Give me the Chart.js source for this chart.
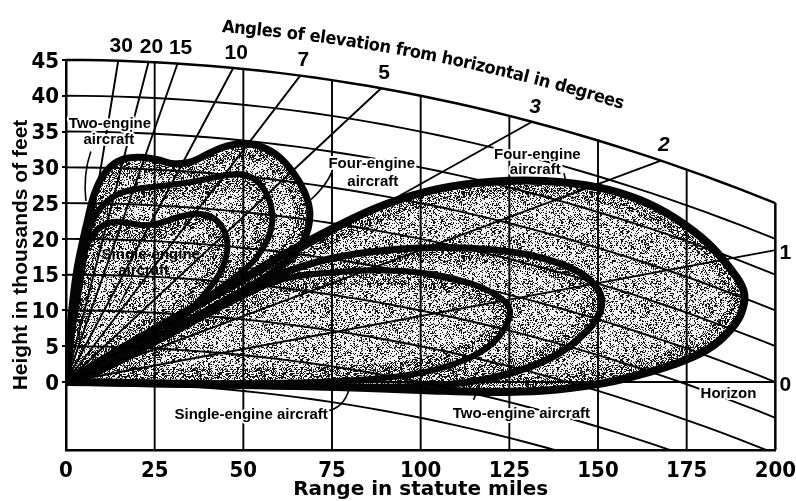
<!DOCTYPE html>
<html lang="en">
<head>
<meta charset="utf-8">
<title>Radar coverage</title>
<script src="https://cdn.jsdelivr.net/npm/chart.js@4.4.1/dist/chart.umd.min.js"></script>
<style>
  html, body { margin: 0; background: #fff; }
  canvas { display: block; }
</style>
</head>
<body>
<canvas id="coverage" width="796" height="501"></canvas>
<script>
// range in statute miles, height in thousands of feet
const rangeTicks = [0, 25, 50, 75, 100, 125, 150, 175, 200];
const heightTicks = [0, 5, 10, 15, 20, 25, 30, 35, 40, 45];
// elevation angles from horizontal, degrees
const elevationAngles = [30, 20, 15, 10, 7, 5, 3, 2, 1, 0];

// coverage lobes [miles, kft], traced round from the radar site
const singleLow = [[0,0],[15,3],[30,6.8],[45,10.8],[60,14.2],[75,15.3],[90,15.6],[103,15.1],[114,13.8],[121,12.2],[125,10.3],[124,7.8],[120,5.3],[113,3.2],[103,1.6],[90,0.6],[70,0],[40,-0.2],[15,-0.1],[0,0]];
const twoLow = [[0,0],[15,3.5],[30,7.4],[45,11.3],[60,15],[75,17.3],[90,18.4],[105,18.8],[120,18.5],[132,17.6],[142,16],[148,14.1],[151,11.7],[150,9.2],[146,6.7],[139,4],[129,1.8],[116,0.2],[100,-0.6],[80,-0.7],[50,-0.5],[20,-0.2],[0,0]];
const fourLow = [[0,0],[15,4.5],[30,8.8],[45,13],[60,17.4],[75,21.4],[90,24.8],[105,27],[120,28],[135,28.1],[150,27.2],[162,25.4],[172,22.8],[181,19.4],[187,16],[191,12.8],[190.5,9.8],[187.5,7.4],[181,4.6],[171,2.4],[160,0.8],[150,-0.3],[135,-1.2],[118,-1.4],[100,-1.1],[70,-0.6],[40,-0.3],[15,-0.1],[0,0]];
const singleHigh = [[0,0],[0.8,3],[1.7,7],[2.7,11],[3.8,15],[5.2,18.2],[7.5,20.5],[10.5,21.9],[14,22.4],[18,22.2],[22,21.9],[27,22.3],[32,23.1],[37,23.5],[41.5,22.9],[44.5,21.2],[45.5,18.8],[44.3,16.2],[41.5,13.8],[35,10],[27,6.6],[18,3.6],[9,1.4],[0,0]];
const twoHigh = [[0,0],[1,5],[2.4,11],[4,16.5],[6,20.6],[9,23.8],[13,25.8],[18,26.8],[25,27.3],[32,27.7],[39,28.3],[45,28.9],[50,29],[54,28],[57,25.8],[58.2,23],[57.3,20.5],[55,18.3],[51.5,16.2],[42,12.6],[30,8.6],[18,5],[8,2],[0,0]];
const fourHigh = [[0,0],[0.6,4],[1.6,10],[3,15.5],[4.6,19.5],[6,22.5],[7.8,26],[10.5,28.9],[14.5,30.8],[20,31.4],[25.5,31.1],[30.5,30.5],[35.5,30.8],[40.5,32],[45.5,33],[50,33.3],[55,32.9],[60,31.5],[64,29.3],[67.2,26.6],[68.7,24],[68.3,21.5],[66.5,19.3],[63.5,17.3],[55,14.3],[44,11.2],[32,7.8],[20,4.6],[9,1.9],[0,0]];

// 4/3 earth radius: ground drops miles^2/2 feet below the tangent
const CURVE = 2000;        // miles^2 per thousand feet of drop
const KFT_PER_MILE = 5.28;
const TOP = 45, BOTTOM = -9.5, FAR = 200;
const ARC_TITLE = 'Angles of elevation from horizontal in degrees';

const heightLine = h => {
  const pts = [];
  for (let d = 0; d <= FAR; d += 5) pts.push({x: d, y: h - d * d / CURVE});
  return pts;
};

// ray at a given elevation, stopped at the 45 000 ft line or the frame edge
function angleEnd(deg) {
  const s = KFT_PER_MILE * Math.tan(deg * Math.PI / 180);
  const d = Math.min(FAR, CURVE / 2 * (-s + Math.sqrt(s * s + 4 * TOP / CURVE)));
  return {x: d, y: s * d};
}

// grainy halftone; paper = null leaves the gaps transparent
function stipple(density, seed, paper) {
  const size = 64;
  const c = document.createElement('canvas');
  c.width = c.height = size;
  const g = c.getContext('2d');
  const img = g.createImageData(size, size);
  for (let i = 0; i < size * size; i++) {
    seed = (Math.imul(seed, 1664525) + 1013904223) >>> 0;
    const ink = seed / 4294967296 < density;
    if (ink) img.data.set([20, 20, 20, 255], i * 4);
    else if (paper !== null) img.data.set([paper, paper, paper, 255], i * 4);
  }
  g.putImageData(img, 0, 0);
  return g.createPattern(c, 'repeat');
}

const thin = {
  showLine: true, pointRadius: 0, fill: false, tension: 0,
  borderColor: '#000', borderWidth: 1.9,
  clip: {left: 4, top: 4, right: 4, bottom: 0}
};
const gridSets = [];
elevationAngles.forEach(a => gridSets.push({...thin, data: [{x: 0, y: 0}, angleEnd(a)]}));
heightTicks.forEach(h => gridSets.push({...thin, data: heightLine(h), borderWidth: h === TOP ? 2.5 : 1.9}));
rangeTicks.filter(r => r > 0).forEach(r => gridSets.push({
  ...thin,
  data: [{x: r, y: BOTTOM}, {x: r, y: TOP - r * r / CURVE}],
  borderWidth: r === FAR ? 2.5 : 1.9
}));

const shade = stipple(0.27, 20231, 242);
const rim = stipple(0.3, 911, null);
const lobe = (pts, w) => ({
  lobe: true,
  data: pts.map(([x, y]) => ({x, y})),
  showLine: true, pointRadius: 0, tension: 0.4,
  fill: 'shape', backgroundColor: shade,
  borderColor: '#050505', borderWidth: w, borderJoinStyle: 'round'
});
const lobeSets = [
  lobe(singleHigh, 6), lobe(twoHigh, 6), lobe(fourHigh, 7),
  lobe(singleLow, 6), lobe(twoLow, 7), lobe(fourLow, 8)
];

// darker grain along the inside of every lobe edge
const rimShade = {
  id: 'rimShade',
  beforeDatasetsDraw(chart) {
    const {ctx, chartArea: a} = chart;
    ctx.save();
    ctx.beginPath();
    ctx.rect(a.left, a.top, a.right - a.left, a.bottom - a.top);
    ctx.clip();
    chart.data.datasets.forEach((ds, i) => {
      if (!ds.lobe) return;
      const line = chart.getDatasetMeta(i).dataset;
      ctx.save();
      ctx.beginPath();
      line.path(ctx);
      ctx.closePath();
      ctx.clip();
      ctx.strokeStyle = rim;
      ctx.lineJoin = 'round';
      [30, 18, 10].forEach(w => { ctx.lineWidth = w; ctx.stroke(); });
      ctx.restore();
    });
    ctx.restore();
  }
};

// text set inside the plot, in chart units
const notes = [
  {text: 'Two-engine', x: 12.4, y: 36.1, halo: true},
  {text: 'aircraft', x: 12.1, y: 33.8, halo: true},
  {text: 'Single-engine', x: 23.9, y: 17.7},
  {text: 'aircraft', x: 21.9, y: 15.6},
  {text: 'Four-engine', x: 86.2, y: 30.5, halo: true},
  {text: 'aircraft', x: 86.5, y: 28.0, halo: true},
  {text: 'Four-engine', x: 132.9, y: 31.8, halo: true},
  {text: 'aircraft', x: 132.3, y: 29.7, halo: true},
  {text: 'Single-engine aircraft', x: 52.2, y: -4.6, halo: true},
  {text: 'Two-engine aircraft', x: 128.4, y: -4.5, halo: true},
  {text: 'Horizon', x: 186.8, y: -1.7, halo: true}
];
const leaders = [
  [[7.0, 32.2], [4.8, 29.1], [5.6, 25.3]],
  [[18.5, 14.1], [16.8, 12.5], [15.2, 10.9]],
  [[75.0, 29.4], [73.6, 27.6], [69.1, 25.5]],
  [[140.4, 29.2], [140.7, 28.5], [141.0, 27.9]],
  [[74.2, -4.0], [79.2, -3.3], [80.3, 0.0]],
  [[114.9, -2.5], [115.8, -1.4], [116.6, -0.3]]
];

// title set along a line parallel to the 45 000 ft curve
function drawArcTitle(ctx, chart) {
  const {x, y} = chart.scales;
  const x0 = 222, x1 = 622;
  const pts = [];
  for (let p = x0; p <= x1; p += 2) {
    const d = x.getValueForPixel(p);
    const lift = 35 + 4 * (p - x0) / (x1 - x0);
    pts.push([p, y.getPixelForValue(TOP - d * d / CURVE) - lift]);
  }
  const lens = [0];
  for (let i = 1; i < pts.length; i++) {
    lens.push(lens[i - 1] + Math.hypot(pts[i][0] - pts[i - 1][0], pts[i][1] - pts[i - 1][1]));
  }
  const total = lens[lens.length - 1];
  ctx.font = 'bold 17.5px "DejaVu Sans"';
  let w0 = 0;
  for (const ch of ARC_TITLE) w0 += ctx.measureText(ch).width;
  const squeeze = total / w0;
  ctx.textAlign = 'center';
  ctx.textBaseline = 'alphabetic';
  let s = 0;
  for (const ch of ARC_TITLE) {
    const w = ctx.measureText(ch).width * squeeze;
    const mid = s + w / 2;
    let i = 1;
    while (i < lens.length - 1 && lens[i] < mid) i++;
    const t = (mid - lens[i - 1]) / (lens[i] - lens[i - 1]);
    const px = pts[i - 1][0] + t * (pts[i][0] - pts[i - 1][0]);
    const py = pts[i - 1][1] + t * (pts[i][1] - pts[i - 1][1]);
    ctx.save();
    ctx.translate(px, py);
    ctx.rotate(Math.atan2(pts[i][1] - pts[i - 1][1], pts[i][0] - pts[i - 1][0]));
    ctx.scale(Math.min(1, squeeze + 0.04), 1);
    ctx.fillText(ch, 0, 0);
    ctx.restore();
    s += w;
  }
}

const annotate = {
  id: 'annotate',
  afterDraw(chart) {
    const {ctx} = chart;
    const {x, y} = chart.scales;
    const X = v => x.getPixelForValue(v), Y = v => y.getPixelForValue(v);
    ctx.save();
    ctx.fillStyle = '#000';
    ctx.strokeStyle = '#000';

    // leader lines
    ctx.lineWidth = 1.6;
    leaders.forEach(([a, c, b]) => {
      ctx.beginPath();
      ctx.moveTo(X(a[0]), Y(a[1]));
      ctx.quadraticCurveTo(X(c[0]), Y(c[1]), X(b[0]), Y(b[1]));
      ctx.stroke();
    });

    // labels
    ctx.textAlign = 'center';
    ctx.textBaseline = 'middle';
    ctx.font = 'bold 15px "Liberation Sans"';
    ctx.lineJoin = 'round';
    notes.forEach(n => {
      if (n.halo) {
        ctx.lineWidth = 4;
        ctx.strokeStyle = '#fff';
        ctx.strokeText(n.text, X(n.x), Y(n.y));
      }
      ctx.fillText(n.text, X(n.x), Y(n.y));
    });

    // angle numbers at the ray ends
    elevationAngles.forEach(a => {
      const e = angleEnd(a);
      const italic = a === 3 || a === 2;
      ctx.font = (italic ? 'italic ' : '') + 'bold 21px "Liberation Sans"';
      if (e.x < FAR) ctx.fillText(String(a), X(e.x) + 3, Y(e.y) - 15);
      else ctx.fillText(String(a), X(FAR) + 10, Y(e.y) + 3);
    });

    drawArcTitle(ctx, chart);
    ctx.restore();
  }
};

const tickFont = {family: '"Liberation Sans Narrow", "DejaVu Sans Condensed", "Liberation Sans", sans-serif', size: 22, weight: 'bold'};

new Chart(document.getElementById('coverage'), {
  type: 'scatter',
  data: {datasets: [...gridSets, ...lobeSets]},
  options: {
    responsive: false,
    animation: false,
    events: [],
    layout: {padding: {left: 0, top: 60, right: 18, bottom: 0}},
    plugins: {
      legend: {display: false},
      tooltip: {enabled: false},
      filler: {drawTime: 'beforeDatasetsDraw', propagate: false}
    },
    scales: {
      x: {
        type: 'linear', min: 0, max: FAR,
        afterBuildTicks: s => { s.ticks = rangeTicks.map(v => ({value: v})); },
        afterFit: s => { s.height = 51; },
        ticks: {font: tickFont, color: '#000', padding: 0, maxRotation: 0, autoSkip: false},
        grid: {display: false},
        border: {display: true, color: '#000', width: 2.5},
        title: {
          display: true, text: 'Range in statute miles', color: '#000',
          font: {family: '"DejaVu Sans"', size: 20, weight: 'bold', lineHeight: 1},
          padding: {top: 0, bottom: 1}
        }
      },
      y: {
        type: 'linear', min: BOTTOM, max: TOP,
        afterBuildTicks: s => { s.ticks = heightTicks.map(v => ({value: v})); },
        afterFit: s => { s.width = 66; },
        ticks: {font: tickFont, color: '#000', padding: 3, labelOffset: 2},
        grid: {display: true, drawOnChartArea: false, drawTicks: true, tickLength: 4, color: '#000', lineWidth: 2},
        border: {display: true, color: '#000', width: 2.5},
        title: {
          display: true, text: 'Height in thousands of feet', color: '#000',
          font: {family: '"Liberation Sans"', size: 21, weight: 'bold', lineHeight: 1},
          padding: {top: 11, bottom: 0}
        }
      }
    }
  },
  plugins: [rimShade, annotate]
});
</script>
</body>
</html>
